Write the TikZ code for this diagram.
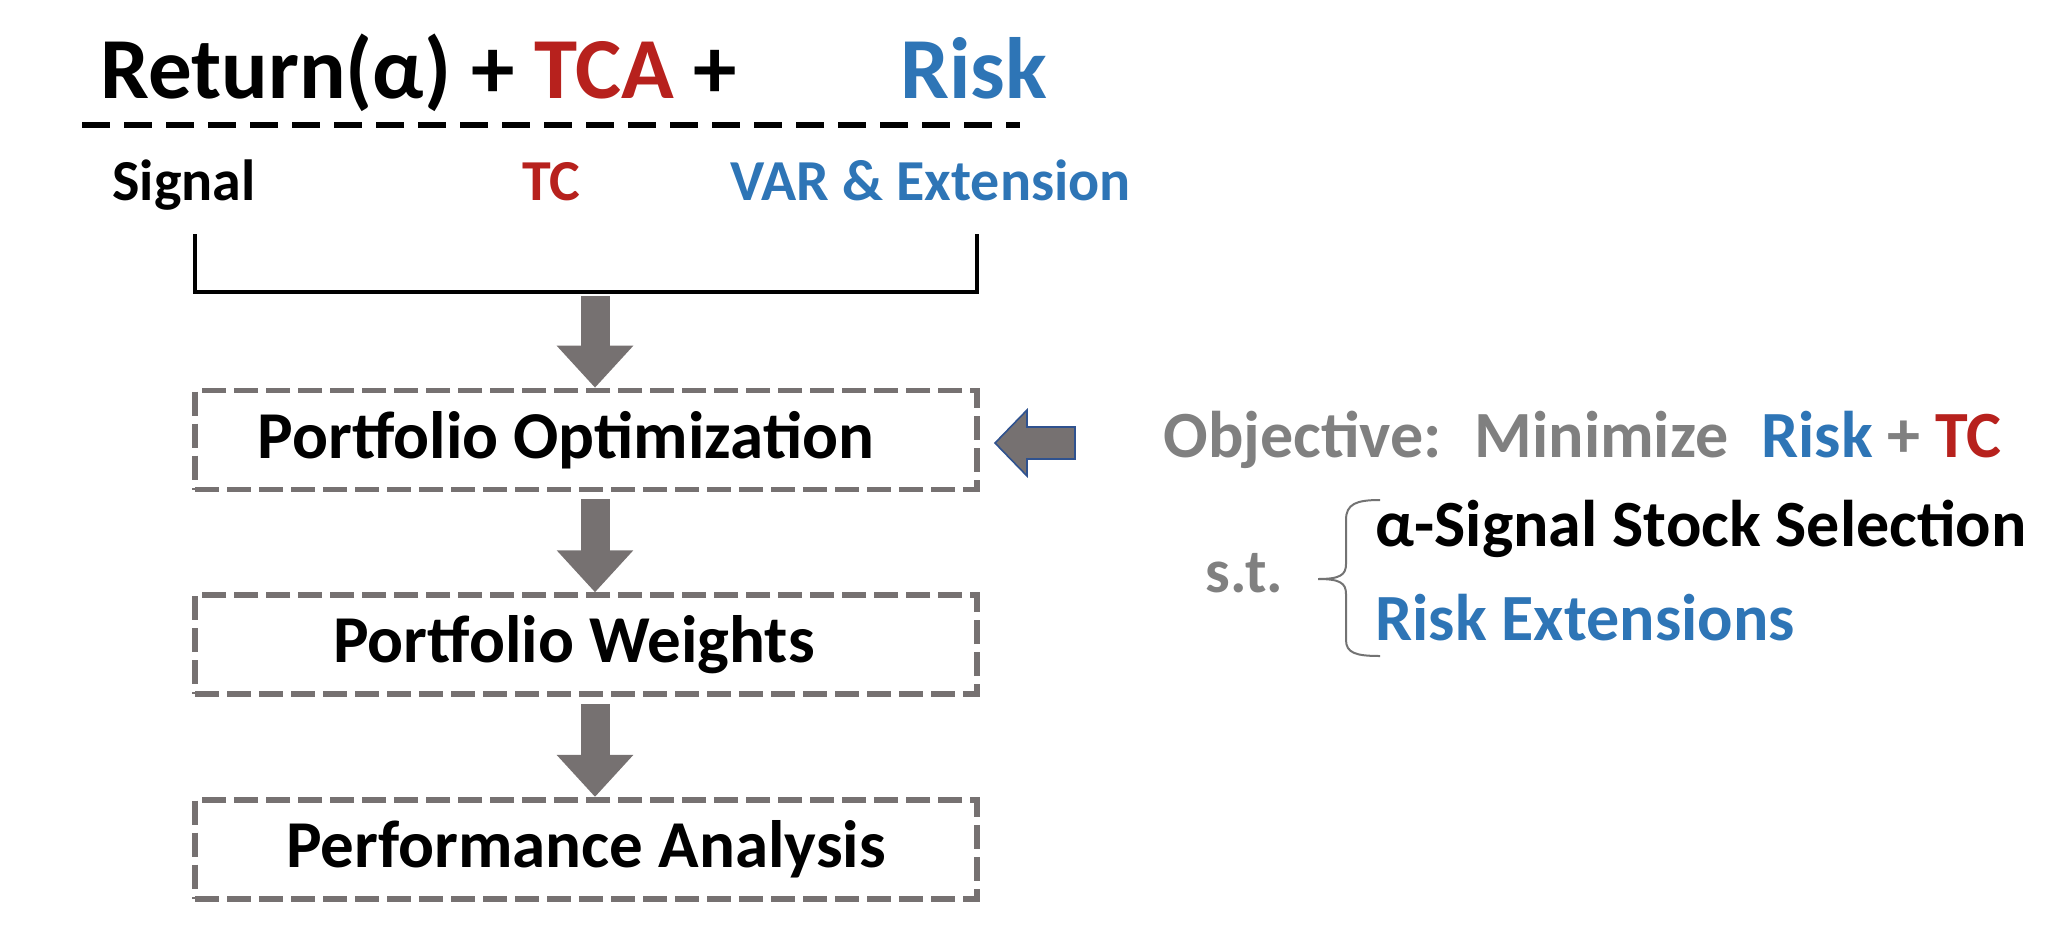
\documentclass[tikz,border=0pt]{standalone}
\usepackage{fontspec}
\setmainfont{Carlito}
\usetikzlibrary{arrows.meta,positioning}

\definecolor{tcred}{RGB}{183,33,29}
\definecolor{riskblue}{RGB}{46,117,182}
\definecolor{arrowgray}{RGB}{118,113,113}
\definecolor{txtgray}{RGB}{128,128,128}
\definecolor{outblue}{RGB}{47,82,143}

\begin{document}
\begin{tikzpicture}[x=0.5pt,y=-0.5pt,>=Stealth, every node/.style={font=\bfseries,inner sep=0pt},
  stage/.style={draw=arrowgray,dash pattern=on 12pt off 4pt,line width=2.8pt,minimum width=391pt,minimum height=49.5pt,font=\fontsize{33.5}{40}\selectfont\bfseries},
  blockarr/.style={draw=arrowgray,line width=14.5pt,-{Triangle[width=37pt,length=21pt]}},
  sub/.style={anchor=base west,font=\fontsize{29}{34}\selectfont\bfseries},
  side/.style={anchor=base west,font=\fontsize{33}{38}\selectfont\bfseries}]
\useasboundingbox (0,0) rectangle (2064,932);
% formula on top
\node[anchor=base west,font=\fontsize{43.5}{50}\selectfont\bfseries] (ret) at (100,98) {Return(α) + \textcolor{tcred}{TCA} +};
\node[anchor=base west,font=\fontsize{43.5}{50}\selectfont\bfseries,text=riskblue] (risk) at (900,98) {Risk};
\draw[line width=3pt,dash pattern=on 14pt off 7pt] (82,125) -- (1020,125);
\node[sub] (sig) at (112,200) {Signal};
\node[sub,text=tcred] (tc) at (522,200) {TC};
\node[sub,text=riskblue] (var) at (730,200) {VAR \& Extension};
% bracket
\coordinate (bl) at (195,234);
\coordinate (br) at (977,234);
\coordinate (brk) at (595,296);
\draw[line width=2.2pt] (bl) -- ++(0,58) -| (br);
% pipeline
\node[stage] (opt) at (586,440) {\hspace*{-20pt}Portfolio Optimization};
\node[stage,below=50pt of opt] (wts) {\hspace*{-12pt}Portfolio Weights};
\node[stage,below=50pt of wts] (perf) {Performance Analysis};
\draw[blockarr] (brk) -- (opt.north -| brk);
\draw[blockarr,shorten <=3.5pt] (opt.south -| brk) -- (wts.north -| brk);
\draw[blockarr,shorten <=3.5pt] (wts.south -| brk) -- (perf.north -| brk);
% objective
\coordinate (objtip) at (995,443);
\draw[fill=arrowgray,draw=outblue,line width=0.8pt] (objtip) -- ++(32,-33) -- ++(0,17) -- ++(48,0) -- ++(0,32) -- ++(-48,0) -- ++(0,17) -- cycle;
\node[side,text=txtgray] (obj) at (1163,457) {Objective:\hspace{0.5em}Minimize\hspace{0.5em}\textcolor{riskblue}{Risk} + \textcolor{tcred}{TC}};
\node[side,text=txtgray,font=\fontsize{31}{36}\selectfont\bfseries] (st) at (1205,592) {s.t.};
\draw[txtgray!90!black,line width=1pt] (1380,500) .. controls (1356,500) and (1346,504) .. (1346,520) -- (1346,564) .. controls (1346,575) and (1340,579) .. (1318,579)
  .. controls (1340,579) and (1346,583) .. (1346,594) -- (1346,640) .. controls (1346,653) and (1356,656) .. (1380,656);
\node[side] (sel) at (1375,546) {α-Signal Stock Selection};
\node[side,text=riskblue] (rext) at (1375,640) {Risk Extensions};
\end{tikzpicture}
\end{document}
